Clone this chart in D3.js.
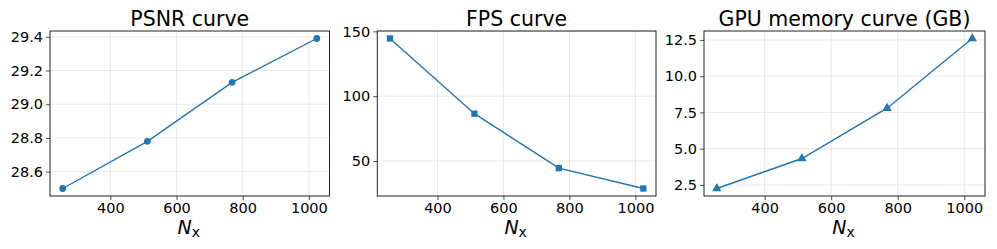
<!DOCTYPE html>
<html><head><meta charset="utf-8">
<script src="https://cdn.jsdelivr.net/npm/d3@7"></script>
<style>
html,body{margin:0;padding:0;background:#fff;}
svg{display:block;font-family:"DejaVu Sans",sans-serif;}
</style></head>
<body>
<svg id="c" width="997" height="249"></svg>
<script>
const nx = [256, 512, 768, 1024];
const psnr = [28.50, 28.78, 29.13, 29.39];
const fps = [144.5, 86.5, 44.5, 28.8];
const gpuMem = [2.25, 4.32, 7.79, 12.6];
const titles = ["PSNR curve", "FPS curve", "GPU memory curve (GB)"];
const xTicks = [400, 600, 800, 1000];
const psnrTicks = [28.6, 28.8, 29.0, 29.2, 29.4];
const fpsTicks = [50, 100, 150];
const gpuTicks = [2.5, 5.0, 7.5, 10.0, 12.5];

const panels = [
  {title: titles[0], ys: psnr, ticks: psnrTicks, fmt: d3.format(".1f"), marker: "circle", x0: 50, x1: 329.5},
  {title: titles[1], ys: fps, ticks: fpsTicks, fmt: d3.format("d"), marker: "square", x0: 377.3, x1: 656},
  {title: titles[2], ys: gpuMem, ticks: gpuTicks, fmt: d3.format(".1f"), marker: "triangle", x0: 704, x1: 985}
];
const axTop = 31, axBottom = 196;
const color = "#1f77b4";
const svg = d3.select("#c");

function pad(ext){ const r = ext[1]-ext[0]; return [ext[0]-0.05*r, ext[1]+0.05*r]; }

panels.forEach(p => {
  const x = d3.scaleLinear().domain(pad(d3.extent(nx))).range([p.x0, p.x1]);
  const y = d3.scaleLinear().domain(pad(d3.extent(p.ys))).range([axBottom, axTop]);
  const g = svg.append("g");
  // grid
  g.selectAll(".gx").data(xTicks).enter().append("line")
    .attr("x1", d => x(d)).attr("x2", d => x(d)).attr("y1", axTop).attr("y2", axBottom)
    .attr("stroke", "#b0b0b0").attr("stroke-opacity", 0.35).attr("stroke-width", 0.8);
  g.selectAll(".gy").data(p.ticks).enter().append("line")
    .attr("y1", d => y(d)).attr("y2", d => y(d)).attr("x1", p.x0).attr("x2", p.x1)
    .attr("stroke", "#b0b0b0").attr("stroke-opacity", 0.35).attr("stroke-width", 0.8);
  // axes
  const xa = g.append("g").attr("transform", `translate(0,${axBottom})`)
    .call(d3.axisBottom(x).tickValues(xTicks).tickSize(4).tickPadding(3).tickFormat(d3.format("d")));
  const ya = g.append("g").attr("transform", `translate(${p.x0},0)`)
    .call(d3.axisLeft(y).tickValues(p.ticks).tickSize(4).tickPadding(3).tickFormat(p.fmt));
  [xa, ya].forEach(a => {
    a.select(".domain").remove();
    a.selectAll("line").attr("stroke", "#222").attr("stroke-width", 0.8);
    a.selectAll("text").attr("fill", "#000").attr("font-size", "14.5px").attr("font-family", "DejaVu Sans");
  });
  // frame
  g.append("rect").attr("x", p.x0).attr("y", axTop).attr("width", p.x1 - p.x0).attr("height", axBottom - axTop)
    .attr("fill", "none").attr("stroke", "#222").attr("stroke-width", 1);
  // line
  const pts = nx.map((v, i) => [x(v), y(p.ys[i])]);
  g.append("path").attr("d", d3.line()(pts)).attr("fill", "none").attr("stroke", color).attr("stroke-width", 1.4);
  const sym = p.marker === "circle" ? d3.symbolCircle : p.marker === "square" ? d3.symbolSquare : d3.symbolTriangle;
  const size = p.marker === "circle" ? 36 : p.marker === "square" ? 40 : 38;
  g.selectAll(".m").data(pts).enter().append("path")
    .attr("d", d3.symbol().type(sym).size(size))
    .attr("transform", d => `translate(${d[0]},${d[1]})`)
    .attr("fill", color);
  // title
  g.append("text").attr("x", (p.x0 + p.x1) / 2).attr("y", 26).attr("text-anchor", "middle")
    .attr("font-size", "20.5px").attr("fill", "#000").text(p.title);
  // xlabel
  const xl = g.append("text").attr("x", (p.x0 + p.x1) / 2 - 1).attr("y", 234).attr("text-anchor", "middle")
    .attr("font-size", "19px").attr("fill", "#000");
  xl.append("tspan").attr("font-style", "italic").text("N");
  xl.append("tspan").attr("font-size", "14px").attr("dy", 2.5).text("x");
});
</script>
</body></html>
